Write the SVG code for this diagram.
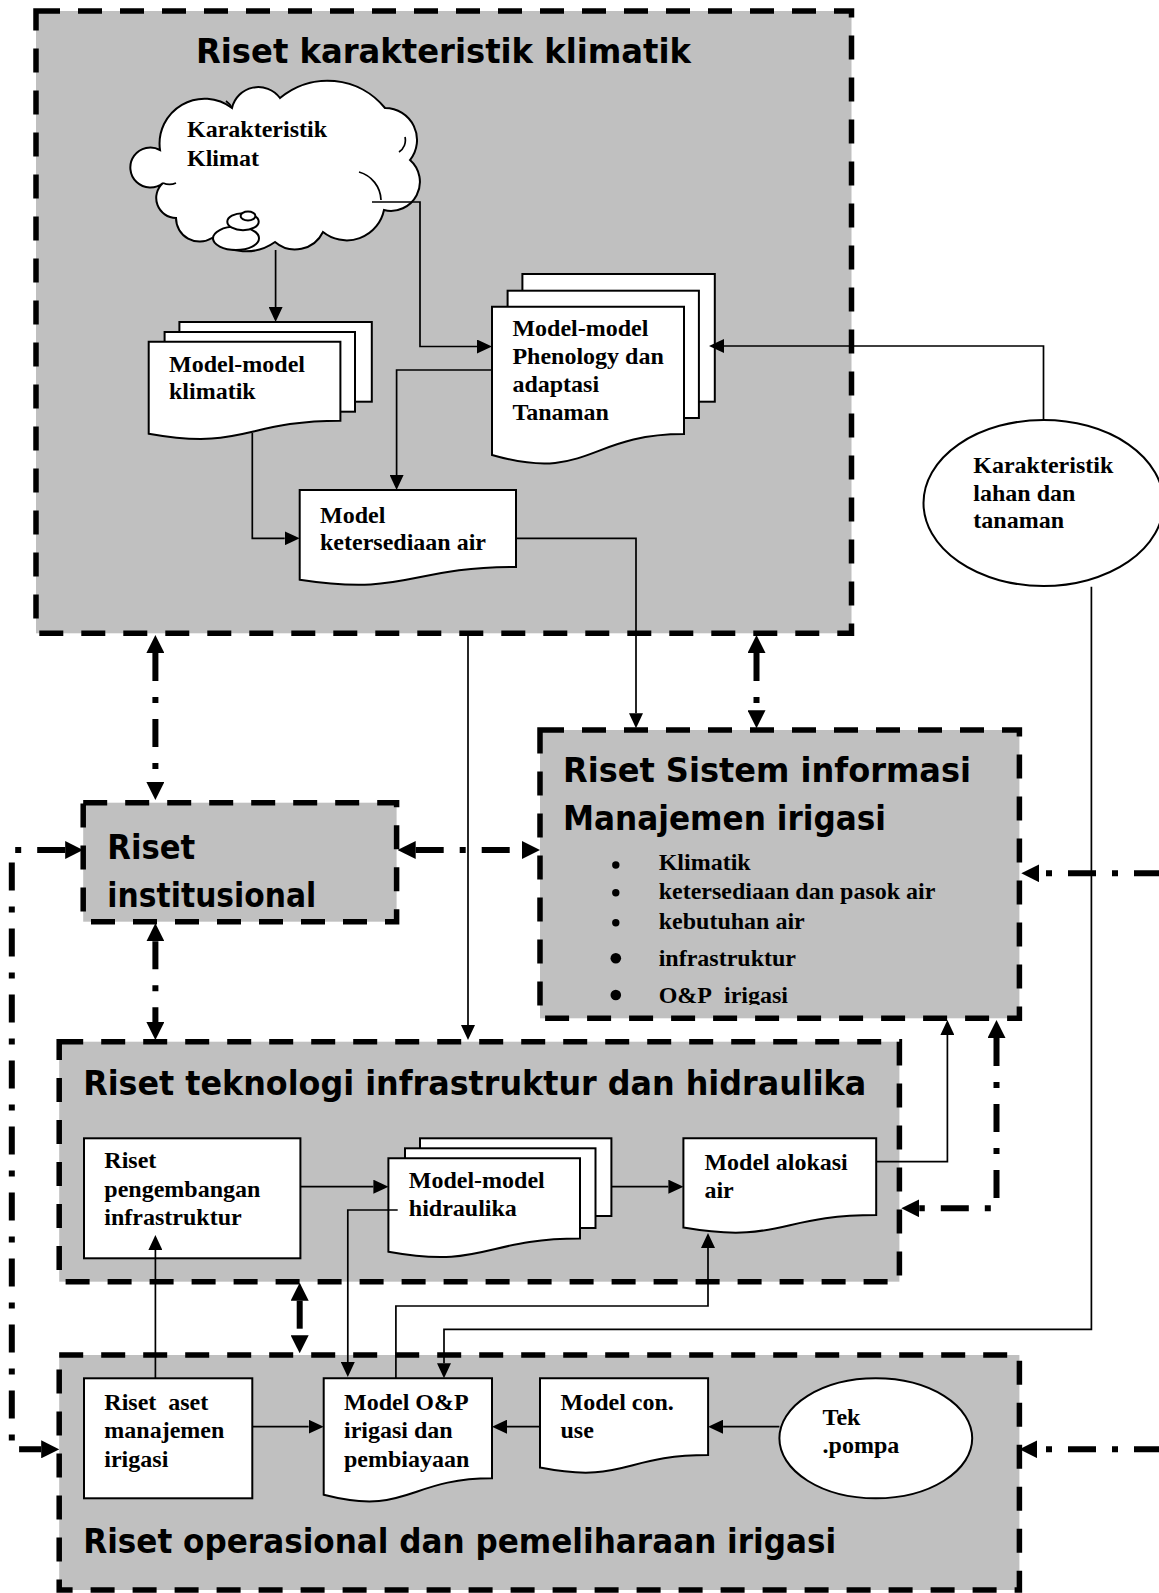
<svg xmlns="http://www.w3.org/2000/svg" width="1159" height="1593" viewBox="0 0 1159 1593">
<defs>
<style>
.cont{fill:#c0c0c0;stroke:#000;stroke-width:5.5;stroke-dasharray:24 18}
.box{fill:#fff;stroke:#000;stroke-width:2}
.ttl{font-family:"DejaVu Sans","Liberation Sans",sans-serif;font-weight:bold;font-size:33px;fill:#000}
.t{font-family:"Liberation Serif","Times New Roman",serif;font-weight:bold;font-size:24px;fill:#000}
.ln{fill:none;stroke:#000;stroke-width:1.7}
.dd{fill:none;stroke:#000;stroke-width:6;stroke-dasharray:28 16 6 16}
</style>
<marker id="a" markerUnits="userSpaceOnUse" markerWidth="15" markerHeight="14" refX="0" refY="7" orient="auto"><path d="M0,0L15,7L0,14z"/></marker>
<marker id="b" markerUnits="userSpaceOnUse" markerWidth="18" markerHeight="18" refX="0" refY="9" orient="auto-start-reverse"><path d="M0,0L18,9L0,18z"/></marker>
<clipPath id="clipS"><rect x="540" y="730" width="480" height="275"/></clipPath>
</defs>
<rect x="0" y="0" width="1159" height="1593" fill="#fff"/>

<g id="container-klimatik">
<rect class="cont" x="36" y="11" width="815.5" height="622.3"/>
<text class="ttl" x="196" y="63" textLength="495" lengthAdjust="spacingAndGlyphs">Riset karakteristik klimatik</text>
</g>
<g id="container-sistem-informasi">
<rect class="cont" x="540" y="730" width="479.4" height="288.3"/>
<text class="ttl" x="563" y="781.7" textLength="408" lengthAdjust="spacingAndGlyphs">Riset Sistem informasi</text>
<text class="ttl" x="563" y="830" textLength="323" lengthAdjust="spacingAndGlyphs">Manajemen irigasi</text>
<g clip-path="url(#clipS)">
<circle cx="615.8" cy="865" r="3.7"/><text class="t" x="658.7" y="870">Klimatik</text>
<circle cx="615.8" cy="892.7" r="3.7"/><text class="t" x="658.7" y="899.3">ketersediaan dan pasok air</text>
<circle cx="615.8" cy="922.7" r="3.7"/><text class="t" x="658.7" y="929.3">kebutuhan air</text>
<circle cx="615.8" cy="958.3" r="5.3"/><text class="t" x="658.7" y="966">infrastruktur</text>
<circle cx="615.8" cy="995" r="5.3"/><text class="t" x="658.7" y="1003">O&amp;P&#160; irigasi</text>
</g>
</g>
<g id="container-institusional">
<rect class="cont" x="83.2" y="802.7" width="313.4" height="119"/>
<text class="ttl" x="107.3" y="858.5" textLength="88" lengthAdjust="spacingAndGlyphs">Riset</text>
<text class="ttl" x="107.3" y="906.7" textLength="209" lengthAdjust="spacingAndGlyphs">institusional</text>
</g>
<g id="container-teknologi">
<rect class="cont" x="59.2" y="1041.7" width="840.2" height="240"/>
<text class="ttl" x="83.2" y="1095" textLength="783" lengthAdjust="spacingAndGlyphs">Riset teknologi infrastruktur dan hidraulika</text>
</g>
<g id="container-operasional">
<rect class="cont" x="59.2" y="1355" width="960.2" height="235"/>
<text class="ttl" x="83.2" y="1553" textLength="753" lengthAdjust="spacingAndGlyphs">Riset operasional dan pemeliharaan irigasi</text>
</g>

<g id="node-karakteristik-klimat">
<path class="box" d="M160,150 A45,45 0 0 1 232,108 A27,27 0 0 1 280,98 A74,74 0 0 1 385,108 A32,32 0 0 1 410,160 A29,29 0 0 1 384,210 A38,38 0 0 1 323,232 A31,31 0 0 1 275,242 A50,50 0 0 1 212,238 A23.5,23.5 0 0 1 176,218 A20,20 0 0 1 163,183 A20,20 0 1 1 160,150 Z"/>
<path class="ln" d="M359,172 A30,30 0 0 1 381,200 M399,152 A14,14 0 0 0 405,137 M232,108 A20,20 0 0 0 226,101 M163,183 A16,16 0 0 0 176,183"/>
<ellipse class="box" cx="236" cy="238.3" rx="23" ry="11.7"/>
<ellipse class="box" cx="243" cy="221.7" rx="15.7" ry="8.5"/>
<ellipse class="box" cx="248" cy="216" rx="7.4" ry="4.5"/>
<text class="t" x="187" y="137">Karakteristik</text>
<text class="t" x="187" y="166">Klimat</text>
</g>
<g id="node-model-klimatik">
<rect class="box" x="179.4" y="322" width="192.4" height="79.7"/>
<rect class="box" x="164.6" y="332" width="190.4" height="79.7"/>
<path class="box" d="M148.7,341.7 H340.4 V420.7 C244.55,420.7 244.55,450.8 148.7,433.7 Z"/>
<text class="t" x="169" y="371.7">Model-model</text>
<text class="t" x="169" y="399">klimatik</text>
</g>
<g id="node-phenology">
<rect class="box" x="522.4" y="274" width="192.4" height="127.7"/>
<rect class="box" x="507.6" y="290.7" width="191.3" height="127.3"/>
<path class="box" d="M492,306.7 H684 V434.1 C588,434.1 588,482.6 492,455 Z"/>
<text class="t" x="512.4" y="335.5">Model-model</text>
<text class="t" x="512.4" y="363.5">Phenology dan</text>
<text class="t" x="512.4" y="391.5">adaptasi</text>
<text class="t" x="512.4" y="419.5">Tanaman</text>
</g>
<g id="node-ketersediaan-air">
<path class="box" d="M299.7,490 H516 V567 C407.85,567 407.85,596.3 299.7,579.7 Z"/>
<text class="t" x="320" y="522.7">Model</text>
<text class="t" x="320" y="550">ketersediaan air</text>
</g>
<g id="node-karakteristik-lahan">
<ellipse class="box" cx="1043.5" cy="503" rx="120" ry="83"/>
<text class="t" x="973.3" y="473.3">Karakteristik</text>
<text class="t" x="973.3" y="501">lahan dan</text>
<text class="t" x="973.3" y="528.3">tanaman</text>
</g>
<g id="node-pengembangan-infrastruktur">
<rect class="box" x="84" y="1138.3" width="216.4" height="120"/>
<text class="t" x="104.3" y="1168.3">Riset</text>
<text class="t" x="104.3" y="1196.7">pengembangan</text>
<text class="t" x="104.3" y="1225">infrastruktur</text>
</g>
<g id="node-hidraulika">
<rect class="box" x="420" y="1138.3" width="191.4" height="77.7"/>
<rect class="box" x="405" y="1148.3" width="190.5" height="79.7"/>
<path class="box" d="M388.4,1158.3 H580 V1238.5 C484.2,1238.5 484.2,1269 388.4,1251.7 Z"/>
<text class="t" x="408.8" y="1187.7">Model-model</text>
<text class="t" x="408.8" y="1215.7">hidraulika</text>
</g>
<g id="node-alokasi-air">
<path class="box" d="M683.4,1138.3 H876.2 V1215 C779.8,1215 779.8,1244.2 683.4,1227.6 Z"/>
<text class="t" x="704.4" y="1170">Model alokasi</text>
<text class="t" x="704.4" y="1198.3">air</text>
</g>
<g id="node-aset-manajemen">
<rect class="box" x="84" y="1378.3" width="168.3" height="120"/>
<text class="t" x="104.3" y="1410">Riset&#160; aset</text>
<text class="t" x="104.3" y="1438.3">manajemen</text>
<text class="t" x="104.3" y="1466.7">irigasi</text>
</g>
<g id="node-op-irigasi">
<path class="box" d="M323.7,1378.3 H492 V1478.3 C407.85,1478.3 407.85,1516.4 323.7,1494.8 Z"/>
<text class="t" x="344" y="1410">Model O&amp;P</text>
<text class="t" x="344" y="1438.3">irigasi dan</text>
<text class="t" x="344" y="1466.7">pembiayaan</text>
</g>
<g id="node-con-use">
<path class="box" d="M540,1378.3 H708.1 V1455 C624.05,1455 624.05,1484.2 540,1467.6 Z"/>
<text class="t" x="560.5" y="1410">Model con.</text>
<text class="t" x="560.5" y="1438.3">use</text>
</g>
<g id="node-tek-pompa">
<ellipse class="box" cx="875.8" cy="1438.3" rx="96.4" ry="60"/>
<text class="t" x="822.6" y="1425">Tek</text>
<text class="t" x="822.6" y="1453.3">.pompa</text>
</g>

<g id="connectors">
<path class="ln" marker-end="url(#a)" d="M275.6,250 V307"/>
<path class="ln" marker-end="url(#a)" d="M372,202 H420 V346.5 H477"/>
<path class="ln" marker-end="url(#a)" d="M1043.5,420 V346 H724"/>
<path class="ln" marker-end="url(#a)" d="M492,370 H396.6 V475"/>
<path class="ln" marker-end="url(#a)" d="M252.3,433 V538.3 H284.7"/>
<path class="ln" marker-end="url(#a)" d="M516,538.3 H636 V713.3"/>
<path class="ln" marker-end="url(#a)" d="M468,633 V1025"/>
<path class="ln" marker-end="url(#a)" d="M300.4,1186.7 H373.4"/>
<path class="ln" marker-end="url(#a)" d="M611.4,1186.7 H668.4"/>
<path class="ln" marker-end="url(#a)" d="M876.2,1161.7 H947.4 V1035"/>
<path class="ln" marker-end="url(#a)" d="M397.7,1210 H347.8 V1362"/>
<path class="ln" marker-end="url(#a)" d="M1091.4,586.7 V1329.3 H444 V1363.3"/>
<path class="ln" marker-end="url(#a)" d="M395.9,1378.3 V1306 H708 V1248"/>
<path class="ln" marker-end="url(#a)" d="M155.4,1378.3 V1250"/>
<path class="ln" marker-end="url(#a)" d="M252.3,1426.7 H308.7"/>
<path class="ln" marker-end="url(#a)" d="M540,1426.7 H507"/>
<path class="ln" marker-end="url(#a)" d="M779.4,1426.7 H723.1"/>

<path class="dd" marker-start="url(#b)" marker-end="url(#b)" d="M155.4,653 V782"/>
<path class="dd" marker-start="url(#b)" marker-end="url(#b)" d="M756.5,653 V710.3"/>
<path class="dd" marker-start="url(#b)" marker-end="url(#b)" d="M415.7,850 H522"/>
<path class="dd" marker-start="url(#b)" marker-end="url(#b)" d="M155.4,941.3 V1022"/>
<path class="dd" marker-start="url(#b)" marker-end="url(#b)" d="M299.7,1300.7 V1335.3"/>
<path class="dd" marker-start="url(#b)" marker-end="url(#b)" d="M65.2,850 H11.8 V1449.3 H41.2"/>
<path class="dd" marker-end="url(#b)" d="M1162,873.3 H1039.3"/>
<path class="dd" marker-end="url(#b)" d="M1162,1449.3 H1037.4"/>
<path class="dd" marker-start="url(#b)" marker-end="url(#b)" d="M996.5,1038 V1208.3 H919.3"/>
</g>
</svg>
